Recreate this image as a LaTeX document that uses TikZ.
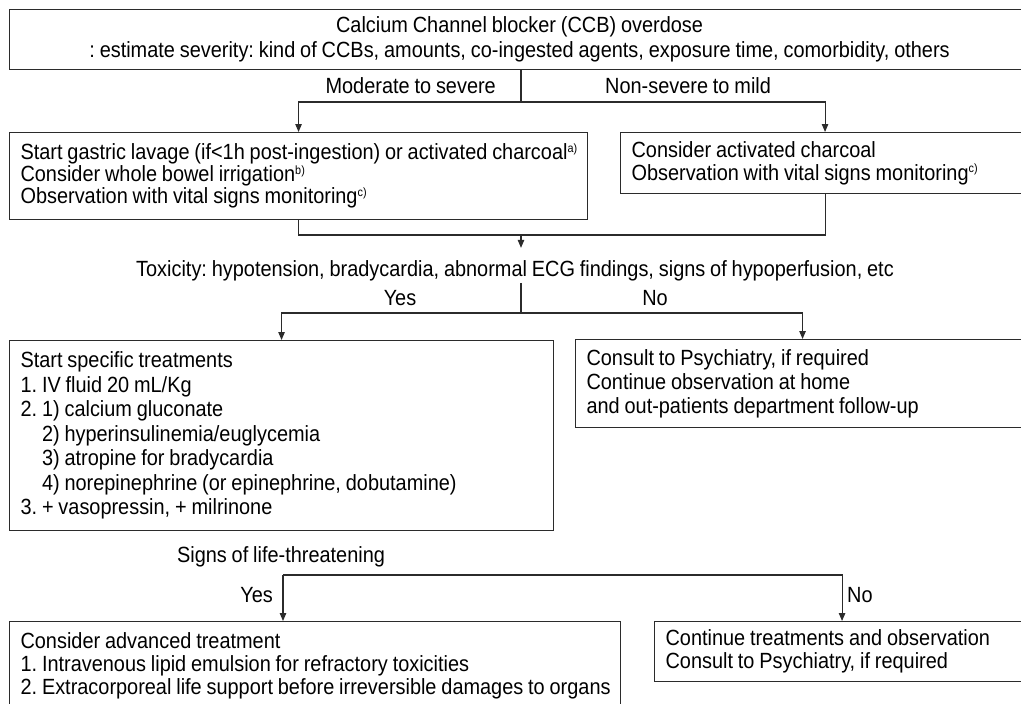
\documentclass[tikz,border=0pt]{standalone}
\usepackage{fontspec}
\setmainfont[FakeStretch=0.905, WordSpace=0.88]{Liberation Sans}
\usepackage{tikz}
\usetikzlibrary{arrows.meta}
\definecolor{cline}{HTML}{2B2B2B}
\newcommand{\fnref}[1]{\textsuperscript{\fontsize{12}{12}\selectfont #1}}
\tikzset{
  blk/.style={draw=cline, line width=1.1pt, anchor=north west, align=flush left,
              inner xsep=11pt, inner ysep=0pt, font=\fontsize{22}{23}\selectfont},
  lbl/.style={inner sep=0pt, anchor=base, font=\fontsize{22}{23}\selectfont},
  ln/.style={draw=cline, line width=1.1pt},
  fl/.style={ln, -{Triangle[length=8pt, width=6.5pt]}},
}

\begin{document}
\frenchspacing
\begin{tikzpicture}[x=1pt, y=-1pt]
  \useasboundingbox (0,0) rectangle (1021,704);
  \clip (0,0) rectangle (1021,704);
  % boxes
  \node[blk, align=flush center, text width=998pt, minimum height=60pt, font=\fontsize{22}{25.5}\selectfont] (ccb) at (9,9)
    {Calcium Channel blocker (CCB) overdose\\\mbox{: estimate severity: kind of CCBs, amounts, co-ingested agents, exposure time, comorbidity, others}};
  \node[blk, text width=556pt, minimum height=87pt, font=\fontsize{22}{22}\selectfont] (lavage) at (9,132)
    {\mbox{Start gastric lavage (if<1h post-ingestion) or activated charcoal\fnref{a)}}\\Consider whole bowel irrigation\fnref{b)}\\Observation with vital signs monitoring\fnref{c)}};
  \node[blk, text width=387pt, minimum height=61pt] (charcoal) at (620,132)
    {Consider activated charcoal\\Observation with vital signs monitoring\fnref{c)}};
  \node[blk, text width=522pt, minimum height=190pt, font=\fontsize{22}{24.5}\selectfont] (specific) at (9,340)
    {Start specific treatments\\1. IV fluid 20 mL/Kg\\2. 1) calcium gluconate\\
     \hphantom{2. }2) hyperinsulinemia/euglycemia\\\hphantom{2. }3) atropine for bradycardia\\
     \hphantom{2. }4) norepinephrine (or epinephrine, dobutamine)\\3. + vasopressin, + milrinone};
  \node[blk, text width=432pt, minimum height=88pt, font=\fontsize{22}{24}\selectfont] (consult) at (575,339)
    {Consult to Psychiatry, if required\\Continue observation at home\\and out-patients department follow-up};
  \node[blk, text width=589pt, minimum height=88pt] (advanced) at (9,621)
    {Consider advanced treatment\\1. Intravenous lipid emulsion for refractory toxicities\\\mbox{2. Extracorporeal life support before irreversible damages to organs}};
  \node[blk, text width=353pt, minimum height=60pt] (cont) at (654,621)
    {Continue treatments and observation\\Consult to Psychiatry, if required};
  % labels
  \node[lbl, anchor=base east] (modsev) at (496,93) {Moderate to severe};
  \node[lbl, anchor=base west] (nonsev) at (605,93) {Non-severe to mild};
  \node[lbl, inner ysep=12pt] (tox) at (515,276)
    {Toxicity: hypotension, bradycardia, abnormal ECG findings, signs of hypoperfusion, etc};
  \node[lbl] (yes1) at (400,305) {Yes};
  \node[lbl] (no1) at (655,305) {No};
  \node[lbl] (signs) at (281,562) {Signs of life-threatening};
  \node[lbl, anchor=base east] (yes2) at (273,602) {Yes};
  \node[lbl, anchor=base west] (no2) at (847,602) {No};
  % junctions
  \coordinate (j1) at (521,102);
  \coordinate (j2) at (521,235);
  \coordinate (j3) at (521,313);
  \coordinate (j4) at (283,575);
  % connectors
  \draw[ln] (ccb.south -| j1) -- (j1);
  \draw[fl] (j1) -| (lavage.north);
  \draw[fl] (j1) -| (charcoal.north);
  \draw[ln] (lavage.south) |- (j2);
  \draw[ln] (charcoal.south) |- (j2);
  \draw[fl] (j2) -- (j2 |- tox.north);
  \draw[ln] ([yshift=10pt]j3 |- tox.south) -- (j3);
  \draw[fl] (j3) -| (specific.north);
  \draw[fl] (j3) -| (consult.north);
  \draw[fl] (j4) -- (j4 |- advanced.north);
  \draw[fl] (j4) -| (cont.north);
\end{tikzpicture}
\end{document}
